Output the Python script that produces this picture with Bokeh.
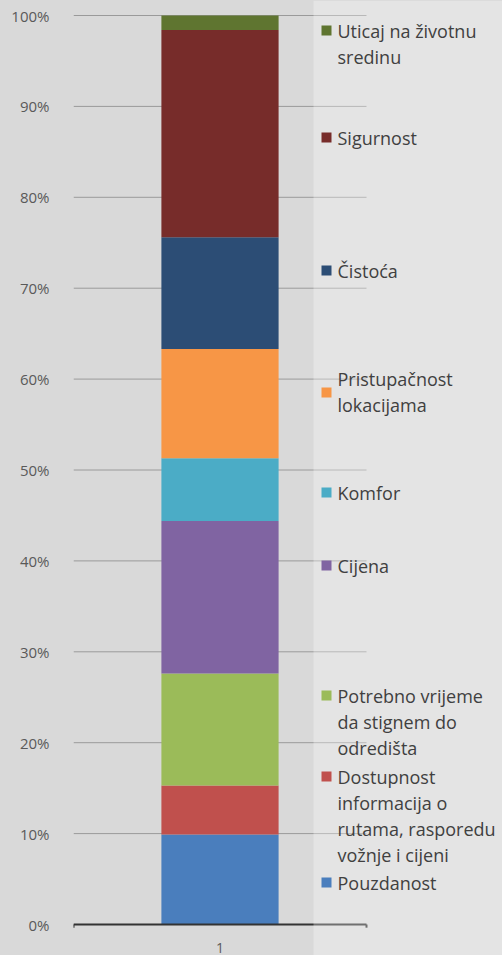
from bokeh.plotting import figure
from bokeh.embed import file_html
from bokeh.resources import INLINE
from bokeh.models import (Range1d, FixedTicker, PrintfTickFormatter, BoxAnnotation,
                          ColumnDataSource, GlobalInlineStyleSheet)
from bokeh.core.properties import value

# ---------------- data (bottom to top of the stacked bar) ----------------
bar_labels = ["1"]
categories = ["Pouzdanost",
              "Dostupnost informacija o rutama, rasporedu vožnje i cijeni",
              "Potrebno vrijeme da stignem do odredišta",
              "Cijena",
              "Komfor",
              "Pristupačnost lokacijama",
              "Čistoća",
              "Sigurnost",
              "Uticaj na životnu sredinu"]
shares = [9.9, 5.4, 12.3, 16.8, 6.9, 12.0, 12.3, 22.8, 1.6]
colors = ["#4a7ebd", "#c0504d", "#9bbb59", "#8064a2", "#4bacc6",
          "#f79646", "#2c4d75", "#772c2a", "#5f7530"]
y_ticks = [0, 10, 20, 30, 40, 50, 60, 70, 80, 90, 100]

# legend (top to bottom), wrapped as in the picture
legend_text = ["Uticaj na životnu\nsredinu", "Sigurnost", "Čistoća",
               "Pristupačnost\nlokacijama", "Komfor", "Cijena",
               "Potrebno vrijeme\nda stignem do\nodredišta",
               "Dostupnost\ninformacija o\nrutama, rasporedu\nvožnje i cijeni",
               "Pouzdanost"]
legend_colors = colors[::-1]

# ---------------- layout (pixels of the picture) ----------------
W, H = 502, 955
LEFT = 73
ZERO_PX, PX_PER_PCT = 924.0, 9.09
CAT_PX = 293
legend_first_line_px = [30, 137, 270, 378, 492, 565, 695, 776, 882]
legend_marker_px = [30, 137, 270, 392, 492, 565, 695, 776, 882]
legend_line_step_px = 26
cat_label_px = 947


def to_y(px):
    return (ZERO_PX - px) / PX_PER_PCT


def to_x(px):
    return (px - LEFT) / CAT_PX


BG = "#d9d9d9"
x_end = (W - LEFT) / CAT_PX
p = figure(width=W, height=H, output_backend="svg", toolbar_location=None,
           x_range=Range1d(0, x_end),
           y_range=Range1d(to_y(H), to_y(0)),
           min_border_left=LEFT, min_border_right=0, min_border_top=0,
           min_border_bottom=0,
           background_fill_color=BG, border_fill_color=BG,
           outline_line_color=None)
p.stylesheets = [GlobalInlineStyleSheet(
    css="html, body { background: %s; overflow: hidden; }" % BG)]
p.xgrid.visible = False
p.ygrid.visible = False
p.xaxis.visible = False

# gridlines over the category width
grid_y = [t for t in y_ticks if t > 0]
p.segment(x0=[0] * len(grid_y), x1=[1] * len(grid_y), y0=grid_y, y1=grid_y,
          line_color="#9a9a9a", line_width=1)

# stacked bar
data = {"x": [0.5]}
for c, v in zip(categories, shares):
    data[c] = [v]
src = ColumnDataSource(data)
p.vbar_stack(categories, x="x", width=0.4, color=colors, line_color=None, source=src)

# category axis line with end hooks
p.segment(x0=[0], x1=[1], y0=[0], y1=[0], line_color="#333333", line_width=2)
p.segment(x0=[0, 1], x1=[0, 1], y0=[0, 0], y1=[-0.35, -0.35],
          line_color="#333333", line_width=2)
p.text(x=[0.5], y=[to_y(cat_label_px)], text=bar_labels,
       text_font=value("Open Sans"), text_font_size="14px", text_color="#595959",
       text_align="center", text_baseline="middle")

# lighter legend panel
p.add_layout(BoxAnnotation(left=to_x(313), right=x_end, bottom=to_y(H), top=to_y(0),
                           fill_color="white", fill_alpha=0.3, line_color=None))

# legend
mx, my, mc = [], [], []
tx, ty, tt = [], [], []
for lab, col, first, mk in zip(legend_text, legend_colors,
                               legend_first_line_px, legend_marker_px):
    mx.append(to_x(326))
    my.append(to_y(mk))
    mc.append(col)
    for i, line in enumerate(lab.split("\n")):
        tx.append(to_x(337))
        ty.append(to_y(first + i * legend_line_step_px))
        tt.append(line)
p.scatter(x=mx, y=my, marker="square", size=10, fill_color=mc, line_color=None,
          level="overlay")
p.text(x=tx, y=ty, text=tt, text_font=value("Open Sans"), text_font_size="18px",
       text_color="#404040", text_baseline="middle", text_align="left",
       level="overlay")

# y axis
p.yaxis.ticker = FixedTicker(ticks=y_ticks)
p.yaxis.formatter = PrintfTickFormatter(format="%d%%")
p.yaxis.axis_line_color = None
p.yaxis.major_tick_line_color = None
p.yaxis.minor_tick_line_color = None
p.yaxis.major_label_standoff = 18
p.yaxis.major_label_text_font = "Open Sans"
p.yaxis.major_label_text_font_size = "15px"
p.yaxis.major_label_text_color = "#595959"

open("out.html", "w").write(file_html(p, INLINE))
